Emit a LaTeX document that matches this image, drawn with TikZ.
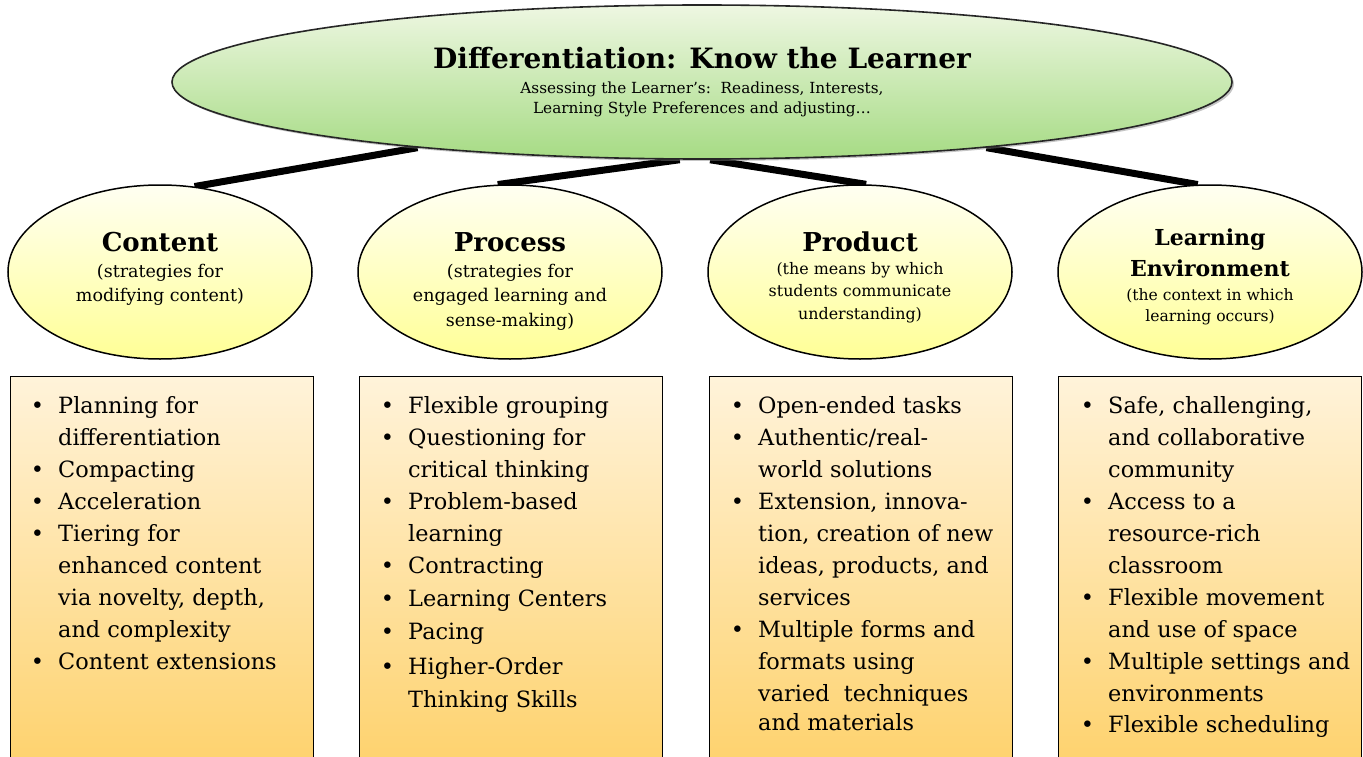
\documentclass[tikz,border=0pt]{standalone}
\usepackage{fontspec}
\setmainfont{DejaVu Serif}
\usetikzlibrary{shapes.geometric,backgrounds,shadows}
\definecolor{gTop}{HTML}{EEF7E2}
\definecolor{gBot}{HTML}{A6DB84}
\definecolor{yTop}{HTML}{FFFFF2}
\definecolor{yBot}{HTML}{FFFF96}
\definecolor{bTop}{HTML}{FFF3DA}
\definecolor{bBot}{HTML}{FED16A}
\newcommand\itm{\makebox[0pt][r]{\textbullet\hspace{14pt}}}
\begin{document}
\begin{tikzpicture}[x=1pt,y=-1pt,
  bigell/.style={ellipse, draw=black!85, line width=1.6pt, minimum width=1060pt,
    minimum height=154pt, inner sep=0pt, top color=gTop, bottom color=gBot,
    drop shadow={shadow xshift=2pt, shadow yshift=-2pt, opacity=0.45}},
  ell/.style={ellipse, draw=black, line width=1.5pt, minimum width=304pt,
    minimum height=174pt, inner sep=0pt, top color=yTop, bottom color=yBot},
  boxs/.style={draw=black, line width=1.2pt, top color=bTop, bottom color=bBot,
    inner sep=0pt, minimum width=303pt, minimum height=400pt, anchor=north west},
  conn/.style={line width=7pt, black},
  ttl/.style={font=\fontsize{26}{30}\selectfont\bfseries, anchor=base, inner sep=0pt},
  sub/.style={align=center, anchor=north, inner sep=0pt},
  lst/.style={align=left, anchor=north west, inner sep=0pt,
    font=\fontsize{22.4}{32}\selectfont}]
\clip (0,0) rectangle (1363,757);

% top ellipse
\node[bigell] (top) at (702,82) {};
\node[ttl, font=\fontsize{28}{32}\selectfont\bfseries] (toptitle) at (702,69) {Differentiation: Know the Learner};
\node[sub, font=\fontsize{15.3}{20}\selectfont] (topsub) at (702,81.5)
  {Assessing the Learner’s:\ \ Readiness, Interests,\\ Learning Style Preferences and adjusting…};

% category ellipses
\node[ell] (content) at (160,272) {};
\node[ell] (process) at (510,272) {};
\node[ell] (product) at (860,272) {};
\node[ell] (env) at (1210,272) {};

\node[ttl] (contentT) at (160,251) {Content};
\node[sub, font=\fontsize{17.5}{24.5}\selectfont] (contentS) at (160,264) {(strategies for\\ modifying content)};
\node[ttl] (processT) at (510,251) {Process};
\node[sub, font=\fontsize{17.5}{24.5}\selectfont] (processS) at (510,264) {(strategies for\\ engaged learning and\\ sense-making)};
\node[ttl] (productT) at (860,251) {Product};
\node[sub, font=\fontsize{15.9}{22.5}\selectfont] (productS) at (860,262) {(the means by which\\ students communicate\\ understanding)};
\node[ttl, font=\fontsize{22}{31}\selectfont\bfseries] (envT1) at (1210,245) {Learning};
\node[ttl, font=\fontsize{22}{31}\selectfont\bfseries] (envT2) at (1210,276) {Environment};
\node[sub, font=\fontsize{15.6}{21}\selectfont] (envS) at (1210,288) {(the context in which\\ learning occurs)};

% connectors
\begin{scope}[on background layer]
\fill[white] (0,0) rectangle (1363,757);
\draw[conn] (top.193) -- (content.68);
\draw[conn] (top.254) -- (process.98);
\draw[conn] (top.276) -- (product.86);
\draw[conn] (top.347) -- (env.98);
\end{scope}

% boxes
\node[boxs] (bc) at (10,376) {};
\node[boxs] (bp) at (359,376) {};
\node[boxs] (bd) at (709,376) {};
\node[boxs] (be) at (1058,376) {};

\node[lst] (lc) at (58,396) {\itm Planning for\\ differentiation\\ \itm Compacting\\ \itm Acceleration\\ \itm Tiering for\\ enhanced content\\ via novelty, depth,\\ and complexity\\ \itm Content extensions};
\node[lst] (lp) at (408,396) {\itm Flexible grouping\\ \itm Questioning for\\ critical thinking\\ \itm Problem-based\\ learning\\ \itm Contracting\\[1pt] \itm Learning Centers\\[1pt] \itm Pacing\\[3pt] \itm Higher-Order\\[1pt] Thinking Skills};
\node[lst] (ld) at (758,396) {\itm Open-ended tasks\\ \itm Authentic/real-\\ world solutions\\ \itm Extension, innova-\\ tion, creation of new\\ ideas, products, and\\ services\\ \itm Multiple forms and\\ formats using\\ varied\ \ techniques\\[-3pt] and materials};
\node[lst] (le) at (1108,396) {\itm Safe, challenging,\\ and collaborative\\ community\\ \itm Access to a\\ resource-rich\\ classroom\\ \itm Flexible movement\\ and use of space\\ \itm Multiple settings and\\ environments\\[-1pt] \itm Flexible scheduling};
\end{tikzpicture}
\end{document}
